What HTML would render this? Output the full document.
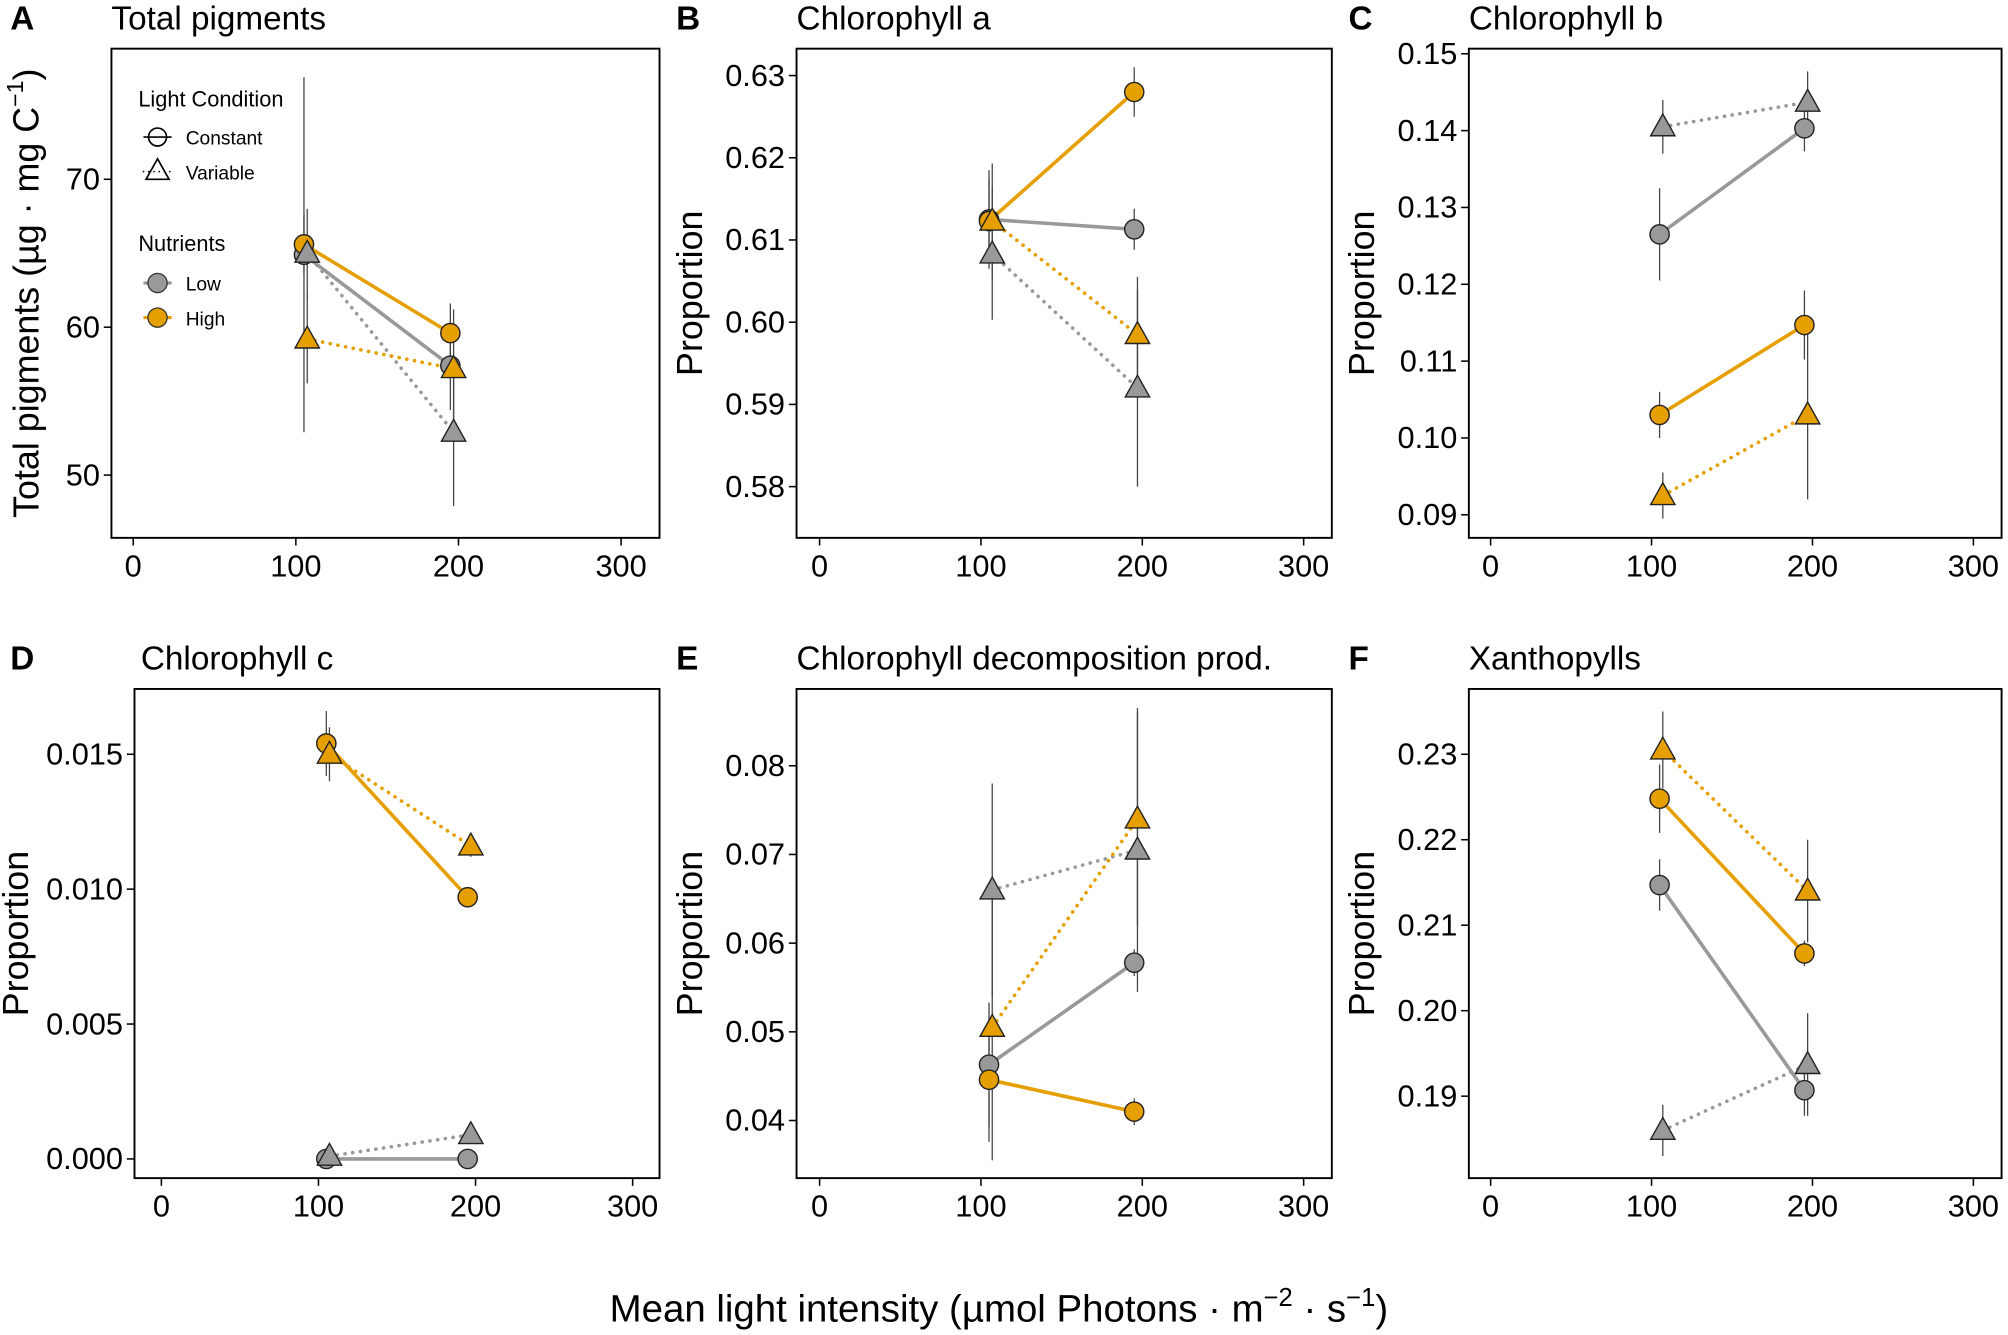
<!DOCTYPE html>
<html><head><meta charset="utf-8"><style>
html,body{margin:0;padding:0;background:#fff}
svg{display:block;font-family:"Liberation Sans",sans-serif}
</style></head><body>
<svg id="chart" width="2008" height="1335" viewBox="0 0 1568 1042.5" xmlns="http://www.w3.org/2000/svg">
<rect width="1568" height="1042.5" fill="#fff"/>
<g id="root"></g>
<text x="780" y="1032" text-anchor="middle" font-size="30">Mean light intensity (µmol Photons · m<tspan dy="-12" font-size="20">−2</tspan><tspan dy="12"> · s</tspan><tspan dy="-12" font-size="20">−1</tspan><tspan dy="12">)</tspan></text>
<g font-size="17">
<text x="108" y="83">Light Condition</text>
<line x1="112" y1="107" x2="134" y2="107" stroke="#000" stroke-width="1.3"/><circle cx="123" cy="107" r="7" fill="none" stroke="#000" stroke-width="1.3"/>
<text x="145" y="113" font-size="15">Constant</text>
<line x1="112" y1="134" x2="134" y2="134" stroke="#000" stroke-width="1.3" stroke-dasharray="0.1,4" stroke-linecap="round"/><polygon points="123,124 132,140 114,140" fill="none" stroke="#000" stroke-width="1.3"/>
<text x="145" y="140" font-size="15">Variable</text>
<text x="108" y="196">Nutrients</text>
<line x1="112" y1="221" x2="134" y2="221" stroke="#999" stroke-width="2.5"/><circle cx="123" cy="221" r="7.5" fill="#999" stroke="#333"/>
<text x="145" y="227" font-size="15">Low</text>
<line x1="112" y1="248" x2="134" y2="248" stroke="#E69F00" stroke-width="2.5"/><circle cx="123" cy="248" r="7.5" fill="#E69F00" stroke="#333"/>
<text x="145" y="254" font-size="15">High</text>
</g>
</svg>
<script>
const xTicks=[0,100,200,300];
const lightConst=[105,195];
const lightVar=[107,197];
// Panel A
const aTicks=[50,60,70];
const aLowConst=[64.9,57.4], aLowConstSe=[12,3];
const aHighConst=[65.6,59.6], aHighConstSe=[2,2];
const aLowVar=[65.0,52.9], aLowVarSe=[3,5];
const aHighVar=[59.2,57.2], aHighVarSe=[3,4];
// Panel B
const bTicks=[0.58,0.59,0.60,0.61,0.62,0.63];
const bLowConst=[0.6125,0.6113], bLowConstSe=[0.006,0.0025];
const bHighConst=[0.6123,0.628], bHighConstSe=[0.005,0.003];
const bLowVar=[0.6083,0.592], bLowVarSe=[0.008,0.012];
const bHighVar=[0.6123,0.5985], bHighVarSe=[0.007,0.007];
// Panel C
const cTicks=[0.09,0.10,0.11,0.12,0.13,0.14,0.15];
const cLowConst=[0.1265,0.1403], cLowConstSe=[0.006,0.003];
const cHighConst=[0.103,0.1147], cHighConstSe=[0.003,0.0045];
const cLowVar=[0.1405,0.1437], cLowVarSe=[0.0035,0.004];
const cHighVar=[0.0925,0.103], cHighVarSe=[0.003,0.011];
// Panel D
const dTicks=[0,0.005,0.010,0.015];
const dTickLabels=["0.000","0.005","0.010","0.015"];
const dLowConst=[0.0000,0.0000], dLowConstSe=[0,0];
const dHighConst=[0.0154,0.0097], dHighConstSe=[0.0012,0.0003];
const dLowVar=[0.0001,0.0009], dLowVarSe=[0.0001,0.0002];
const dHighVar=[0.0150,0.0116], dHighVarSe=[0.001,0.0004];
// Panel E
const eTicks=[0.04,0.05,0.06,0.07,0.08];
const eLowConst=[0.0463,0.0578], eLowConstSe=[0.007,0.0015];
const eHighConst=[0.0446,0.041], eHighConstSe=[0.007,0.0015];
const eLowVar=[0.066,0.0705], eLowVarSe=[0.012,0.016];
const eHighVar=[0.0505,0.074], eHighVarSe=[0.015,0.012];
// Panel F
const fTicks=[0.19,0.20,0.21,0.22,0.23];
const fLowConst=[0.2147,0.1907], fLowConstSe=[0.003,0.003];
const fHighConst=[0.2248,0.2067], fHighConstSe=[0.004,0.0015];
const fLowVar=[0.186,0.1937], fLowVarSe=[0.003,0.006];
const fHighVar=[0.2305,0.214], fHighVarSe=[0.0045,0.006];

const NS="http://www.w3.org/2000/svg";
const root=document.getElementById('root');
function mk(tag,attrs,parent){const e=document.createElementNS(NS,tag);for(const k in attrs)e.setAttribute(k,attrs[k]);(parent||root).appendChild(e);return e;}
const GRAY="#999999", ORANGE="#E69F00";

function panel(p){
  const g=mk('g',{});
  
  
  const xs=v=>p.x0+(v-0)*(p.x300-p.x0)/300;
  const ys=v=>p.yA+(v-p.vA)*(p.yB-p.yA)/(p.vB-p.vA);
  const box=mk('rect',{x:p.bx,y:p.by,width:p.bw,height:p.bh,fill:'none',stroke:'#000','stroke-width':1.5},g);
  
  
  xTicks.forEach(t=>{
    mk('line',{x1:xs(t),x2:xs(t),y1:p.by+p.bh,y2:p.by+p.bh+6,stroke:'#000','stroke-width':1.2},g);
    const tx=mk('text',{x:xs(t),y:p.by+p.bh+30,'text-anchor':'middle','font-size':24,fill:'#000'},g);
    tx.textContent=t;
    
    
  });
  p.ticks.forEach((t,i)=>{
    mk('line',{x1:p.bx-6,x2:p.bx,y1:ys(t),y2:ys(t),stroke:'#000','stroke-width':1.2},g);
    const tx=mk('text',{x:p.bx-9,y:ys(t)+8,'text-anchor':'end','font-size':24,fill:'#000'},g);
    tx.textContent=p.labels?p.labels[i]:t.toFixed(p.dec);
    
    
  });
  const L=mk('text',{x:p.lx,y:p.ly,'font-size':26,'font-weight':'bold'},g);L.textContent=p.id;
  
  
  const T=mk('text',{x:p.tx,y:p.ly,'font-size':26},g);T.textContent=p.title;
  
  
  if(p.ylab){
    const Y=mk('text',{transform:`translate(${p.ylx},${p.by+p.bh/2}) rotate(-90)`,'text-anchor':'middle','font-size':28},g);
    Y.textContent=p.ylab;
    
    
  }
  const series=[
    {v:p.s[0],se:p.s[1],xv:lightConst,col:GRAY,dash:null,shape:'c',n:'low-constant'},
    {v:p.s[2],se:p.s[3],xv:lightConst,col:ORANGE,dash:null,shape:'c',n:'high-constant'},
    {v:p.s[4],se:p.s[5],xv:lightVar,col:GRAY,dash:'0.1,6',shape:'t',n:'low-variable'},
    {v:p.s[6],se:p.s[7],xv:lightVar,col:ORANGE,dash:'0.1,6',shape:'t',n:'high-variable'}];
  series.forEach(s=>{
    const ln=mk('line',{x1:xs(s.xv[0]),y1:ys(s.v[0]),x2:xs(s.xv[1]),y2:ys(s.v[1]),stroke:s.col,'stroke-width':2.8,'stroke-linecap':'round'},g);
    if(s.dash)ln.setAttribute('stroke-dasharray',s.dash);
    
    
  });
  series.forEach(s=>{
    s.v.forEach((v,i)=>{
      const eb=mk('line',{x1:xs(s.xv[i]),x2:xs(s.xv[i]),y1:ys(v-s.se[i]),y2:ys(v+s.se[i]),stroke:'#444','stroke-width':1},g);
      
      
    });
  });
  series.forEach(s=>{
    s.v.forEach((v,i)=>{
      const cx=xs(s.xv[i]), cy=ys(v);
      let m;
      if(s.shape==='c') m=mk('circle',{cx:cx,cy:cy,r:7.5,fill:s.col,stroke:'#222','stroke-width':1.1},g);
      else m=mk('polygon',{points:`${cx},${cy-10} ${cx+9.5},${cy+7} ${cx-9.5},${cy+7}`,fill:s.col,stroke:'#222','stroke-width':1.1},g);
      
      
    });
  });
}
panel({id:'A',title:'Total pigments',lx:8,tx:87,ly:23,bx:87,by:38,bw:428,bh:382,x0:104,x300:485,vA:70,yA:140,vB:50,yB:371,ticks:aTicks,dec:0,ylab:null,
  s:[aLowConst,aLowConstSe,aHighConst,aHighConstSe,aLowVar,aLowVarSe,aHighVar,aHighVarSe]});
panel({id:'B',title:'Chlorophyll a',lx:528,tx:622,ly:23,bx:622,by:38,bw:418,bh:382,x0:640,x300:1018,vA:0.63,yA:59,vB:0.58,yB:380,ticks:bTicks,dec:2,ylab:'Proportion',ylx:548,
  s:[bLowConst,bLowConstSe,bHighConst,bHighConstSe,bLowVar,bLowVarSe,bHighVar,bHighVarSe]});
panel({id:'C',title:'Chlorophyll b',lx:1053,tx:1147,ly:23,bx:1147,by:38,bw:416,bh:382,x0:1164,x300:1541,vA:0.15,yA:42,vB:0.09,yB:402,ticks:cTicks,dec:2,ylab:'Proportion',ylx:1073,
  s:[cLowConst,cLowConstSe,cHighConst,cHighConstSe,cLowVar,cLowVarSe,cHighVar,cHighVarSe]});
panel({id:'D',title:'Chlorophyll c',lx:8,tx:110,ly:523,bx:105,by:538,bw:410,bh:382,x0:126,x300:494,vA:0.015,yA:589,vB:0,yB:905,ticks:dTicks,labels:dTickLabels,dec:3,ylab:'Proportion',ylx:22,
  s:[dLowConst,dLowConstSe,dHighConst,dHighConstSe,dLowVar,dLowVarSe,dHighVar,dHighVarSe]});
panel({id:'E',title:'Chlorophyll decomposition prod.',lx:528,tx:622,ly:523,bx:622,by:538,bw:418,bh:382,x0:640,x300:1018,vA:0.08,yA:598,vB:0.04,yB:875,ticks:eTicks,dec:2,ylab:'Proportion',ylx:548,
  s:[eLowConst,eLowConstSe,eHighConst,eHighConstSe,eLowVar,eLowVarSe,eHighVar,eHighVarSe]});
panel({id:'F',title:'Xanthopylls',lx:1053,tx:1147,ly:523,bx:1147,by:538,bw:416,bh:382,x0:1164,x300:1541,vA:0.23,yA:589,vB:0.19,yB:856,ticks:fTicks,dec:2,ylab:'Proportion',ylx:1073,
  s:[fLowConst,fLowConstSe,fHighConst,fHighConstSe,fLowVar,fLowVarSe,fHighVar,fHighVarSe]});
</script>
<script>
(function(){
 const NS="http://www.w3.org/2000/svg";
 const svg=document.getElementById('chart');
 const t=document.createElementNS(NS,'text');
 t.setAttribute('transform','translate(30,229) rotate(-90)');
 t.setAttribute('text-anchor','middle');
 t.setAttribute('font-size','28');
 
 
 t.innerHTML='Total pigments (µg · mg C<tspan dy="-12" font-size="18">−1</tspan><tspan dy="12">)</tspan>';
 svg.appendChild(t);
})();
</script>
</body></html>
